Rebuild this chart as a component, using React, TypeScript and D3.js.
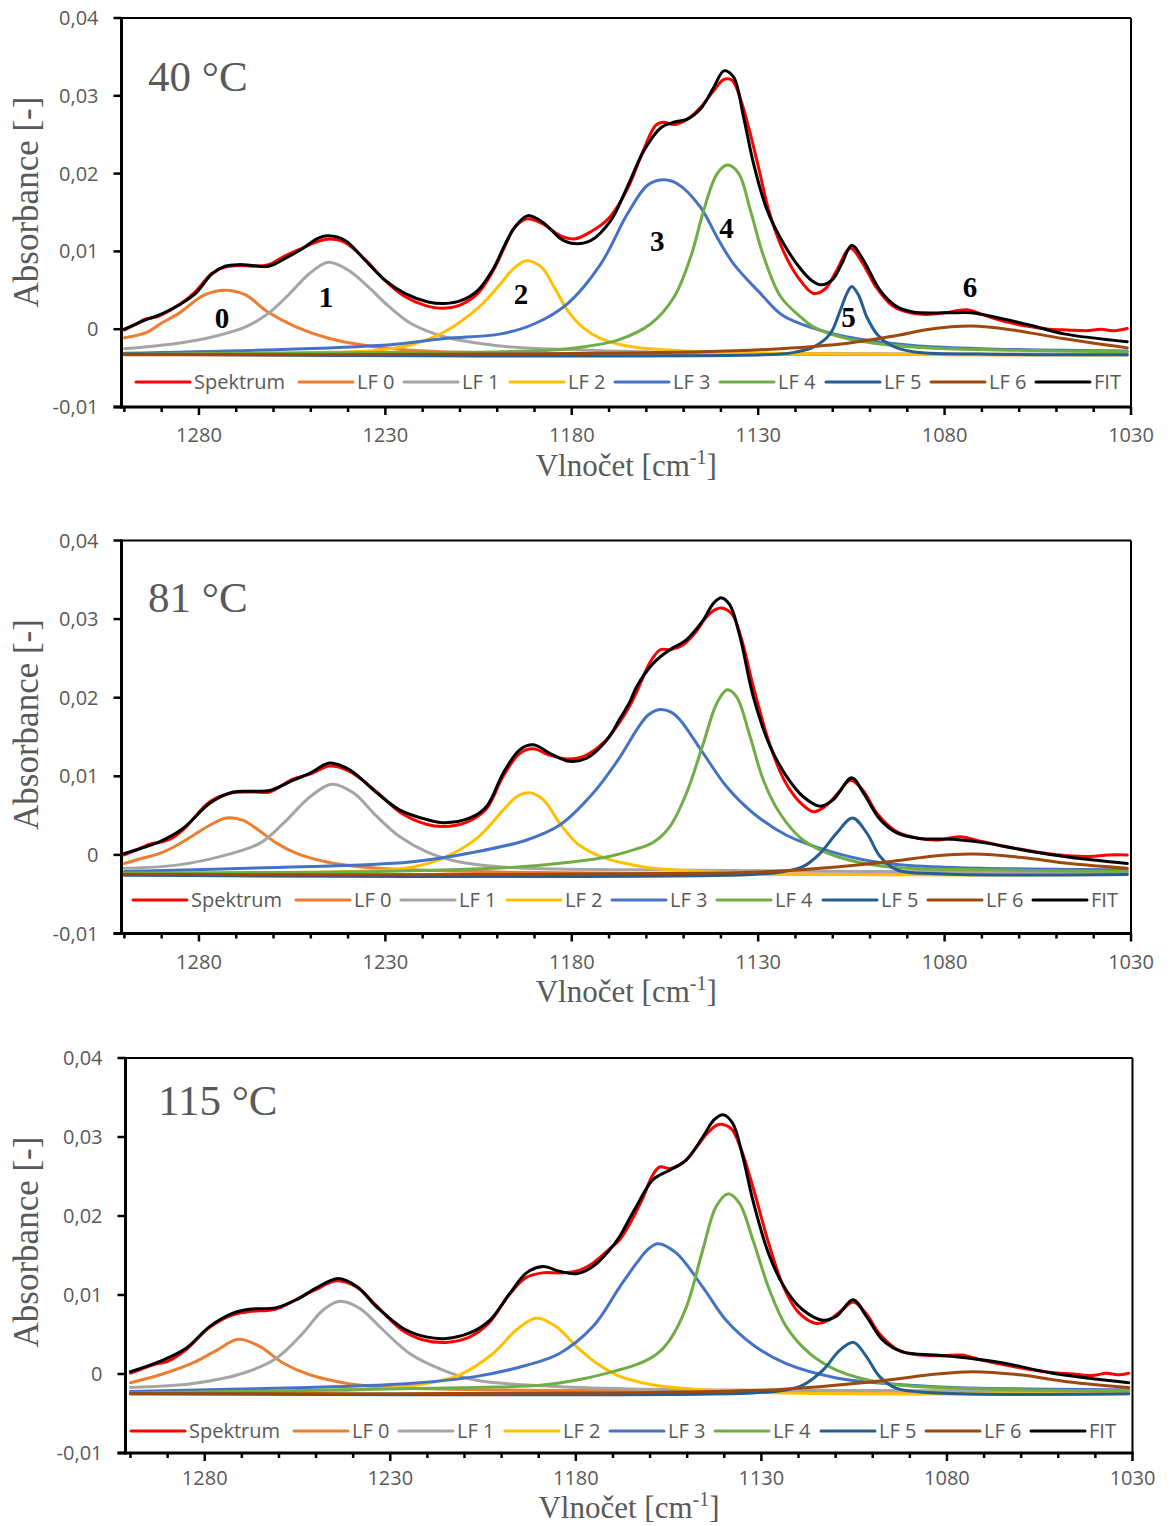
import React from 'react';
import * as d3 from 'd3';

type Pt = [number, number]; // [wavenumber cm-1, absorbance]

// ---------- 40 °C ----------
const spektrum40: Pt[] = [[1300,-0.0001],[1297,0.0006],[1294.5,0.0013],[1292,0.0015],[1289.8,0.0019],[1285.4,0.0031],[1281,0.0048],[1276.5,0.0072],[1273,0.008],[1269,0.0082],[1265.8,0.0081],[1261.3,0.0083],[1257,0.0094],[1252.4,0.0104],[1248,0.0113],[1245,0.0116],[1241,0.0112],[1235.5,0.009],[1230,0.0062],[1224.8,0.0042],[1219,0.003],[1215,0.0027],[1210,0.0031],[1205.2,0.0046],[1201,0.0076],[1198,0.0106],[1195.3,0.0131],[1192,0.0142],[1188,0.0136],[1183,0.012],[1179.3,0.0116],[1175,0.0125],[1170,0.0143],[1165.1,0.018],[1160.6,0.0232],[1157.5,0.0262],[1155.3,0.0266],[1152.6,0.0263],[1149,0.027],[1145.5,0.0285],[1142,0.0306],[1139.2,0.0321],[1137,0.032],[1134.5,0.0292],[1132.6,0.026],[1130,0.021],[1127,0.015],[1123.2,0.01],[1119.5,0.0068],[1115.2,0.0046],[1112,0.0052],[1109,0.0075],[1105.3,0.0104],[1102,0.0085],[1098.5,0.0055],[1094,0.003],[1090,0.0022],[1085,0.0019],[1080,0.0021],[1074.1,0.0025],[1070,0.0019],[1064,0.001],[1058,0.0004],[1052,0],[1047,-0.0001],[1042,-0.0002],[1038,0],[1035,-0.0002],[1031,0.0001]];
const lf0At40: Pt[] = [[1300,-0.0011],[1294,-0.0004],[1290,0.0008],[1285.5,0.002],[1278.5,0.0044],[1273,0.005],[1267.5,0.0044],[1261.5,0.0022],[1254,0.0003],[1245,-0.0012],[1236.5,-0.002],[1223,-0.0027],[1196,-0.0031],[1150,-0.0032],[1031,-0.0033]];
const lf1At40: Pt[] = [[1300,-0.0025],[1285.5,-0.0018],[1276.5,-0.001],[1267.5,0.0003],[1261.5,0.002],[1256,0.0044],[1250.5,0.0071],[1245.3,0.0086],[1240,0.0076],[1234.5,0.0054],[1229,0.0029],[1223,0.0007],[1214,-0.001],[1205,-0.0018],[1196,-0.0023],[1170,-0.0028],[1130,-0.0031],[1031,-0.0032]];
const lf2At40: Pt[] = [[1300,-0.0032],[1250,-0.003],[1232,-0.0027],[1223,-0.002],[1214,-0.0003],[1205,0.0028],[1199,0.0059],[1196,0.0076],[1192.2,0.0088],[1188.2,0.008],[1184.7,0.0054],[1181.1,0.0024],[1176.7,0.0001],[1172.2,-0.0012],[1163.3,-0.0023],[1145.5,-0.0029],[1105,-0.0032],[1031,-0.0033]];
const lf3At40: Pt[] = [[1300,-0.0031],[1232,-0.0021],[1214,-0.0012],[1199,-0.0006],[1190,0.0007],[1181.1,0.0033],[1172.2,0.0084],[1165.1,0.0148],[1159.7,0.0185],[1155.7,0.0192],[1151.7,0.0187],[1145.5,0.0157],[1141,0.0118],[1136.6,0.0084],[1129.4,0.0046],[1123.5,0.0018],[1115,0.0001],[1106,-0.001],[1088.5,-0.0021],[1070.6,-0.0025],[1031,-0.0028]];
const lf4At40: Pt[] = [[1300,-0.0032],[1230,-0.003],[1199,-0.0029],[1181,-0.0025],[1167.7,-0.0014],[1158.8,0.0007],[1152.6,0.0041],[1148.1,0.0093],[1144.6,0.0153],[1141,0.02],[1138.2,0.0211],[1135.2,0.02],[1132.1,0.0153],[1128.5,0.0093],[1124,0.0042],[1118.7,0.0016],[1115.2,0.0003],[1106.2,-0.0012],[1088.5,-0.0023],[1061.7,-0.0027],[1031,-0.0029]];
const lf5At40: Pt[] = [[1300,-0.0032],[1124,-0.0032],[1119.6,-0.0029],[1115.2,-0.0023],[1110.7,-0.0006],[1108,0.0024],[1106.2,0.0046],[1104.9,0.0055],[1103.1,0.0044],[1100.9,0.0016],[1098.2,-0.0006],[1094.7,-0.002],[1088.5,-0.0029],[1070.6,-0.0032],[1031,-0.0033]];
const lf6At40: Pt[] = [[1300,-0.0033],[1200,-0.0032],[1145.5,-0.0029],[1124,-0.0025],[1106,-0.0018],[1092.8,-0.0008],[1084,0],[1072.8,0.0004],[1061.7,-0.0001],[1048.3,-0.0012],[1031,-0.0024]];
const fit40: Pt[] = [[1300,0],[1294.3,0.0012],[1289.8,0.002],[1285.4,0.0031],[1280.9,0.0046],[1276.5,0.0071],[1273,0.0081],[1269.3,0.0083],[1265.8,0.0082],[1261.3,0.0081],[1256.9,0.0091],[1252.4,0.0103],[1248,0.0117],[1245.3,0.012],[1240.8,0.0114],[1235.5,0.0089],[1230.1,0.0063],[1224.8,0.0046],[1218.5,0.0035],[1214.1,0.0033],[1209.6,0.0037],[1205.2,0.005],[1201,0.0078],[1198,0.0108],[1195.3,0.0131],[1191.8,0.0146],[1187.4,0.0136],[1182.9,0.0116],[1179.3,0.011],[1174.9,0.0114],[1169.5,0.014],[1165.1,0.0183],[1160.6,0.023],[1156.1,0.0259],[1152.6,0.0266],[1149,0.027],[1145.5,0.0283],[1141.9,0.0311],[1139.2,0.0332],[1136.6,0.0324],[1133.9,0.0272],[1131.2,0.0212],[1127.6,0.0153],[1123.2,0.011],[1118.7,0.0078],[1115.5,0.0062],[1113,0.0057],[1110,0.0064],[1107.5,0.0085],[1104.9,0.0108],[1101.8,0.0089],[1097.3,0.005],[1092.8,0.0029],[1088.5,0.0022],[1079.5,0.0021],[1072.8,0.0021],[1066,0.0015],[1057,0.0005],[1048,-0.0006],[1031,-0.0016]];

// ---------- 81 °C ----------
const spektrum81: Pt[] = [[1300,0],[1296,0.0008],[1293,0.0014],[1290.5,0.0016],[1287,0.0022],[1284,0.0033],[1277,0.0068],[1271,0.0079],[1265.4,0.008],[1261,0.008],[1255,0.0096],[1250,0.0103],[1245,0.0113],[1239.5,0.0106],[1232.3,0.008],[1226,0.0054],[1219,0.0039],[1214.5,0.0036],[1208,0.0042],[1203,0.0058],[1198.4,0.01],[1194,0.0129],[1190.3,0.0135],[1186,0.0127],[1181,0.0122],[1176.5,0.0126],[1171,0.0145],[1167,0.017],[1164.4,0.019],[1162.6,0.0207],[1159,0.0245],[1156.3,0.0261],[1153.7,0.0261],[1150.5,0.0266],[1147,0.0282],[1144,0.0302],[1141.5,0.0312],[1139.8,0.0314],[1137,0.0306],[1134.5,0.0275],[1131.3,0.0214],[1127,0.0142],[1123,0.0095],[1119,0.0068],[1115.2,0.0055],[1112,0.0062],[1108,0.0082],[1105.3,0.0095],[1102,0.0083],[1098,0.0052],[1093,0.003],[1087,0.0021],[1082,0.0019],[1075.9,0.0023],[1070,0.0017],[1064,0.0011],[1058,0.0006],[1053,0.0002],[1047,-0.0001],[1041,-0.0002],[1036,0],[1031,0]];
const lf0At81: Pt[] = [[1300,-0.0011],[1295,-0.0004],[1290.5,0.0002],[1286,0.0012],[1281.5,0.0025],[1277,0.0038],[1272.6,0.0047],[1268.1,0.0044],[1263.6,0.003],[1259.2,0.0015],[1253.8,0.0002],[1245.7,-0.0009],[1236.8,-0.0015],[1223.4,-0.0019],[1196.6,-0.0022],[1150,-0.0024],[1031,-0.0025]];
const lf1At81: Pt[] = [[1300,-0.0017],[1286,-0.0013],[1272.6,0],[1263.6,0.0015],[1257.4,0.004],[1250.2,0.0074],[1244.4,0.009],[1238.6,0.0079],[1232.3,0.0049],[1226.1,0.0023],[1218.9,0.0004],[1210,-0.0009],[1196.6,-0.0016],[1164.4,-0.0019],[1100,-0.0021],[1031,-0.0022]];
const lf2At81: Pt[] = [[1300,-0.0024],[1250,-0.0022],[1232.3,-0.002],[1223.4,-0.0016],[1214.5,-0.0004],[1205.5,0.0021],[1198.4,0.0057],[1194.8,0.0074],[1191.4,0.0079],[1187.6,0.007],[1183.2,0.004],[1178.7,0.0015],[1174.2,0.0002],[1169.8,-0.0006],[1164.4,-0.0012],[1158.1,-0.0017],[1140.2,-0.0022],[1113.4,-0.0025],[1031,-0.0025]];
const lf3At81: Pt[] = [[1300,-0.0021],[1259.2,-0.0016],[1223.4,-0.0009],[1205.5,0.0004],[1192.1,0.0019],[1183.2,0.0038],[1174.2,0.0079],[1167,0.0125],[1162.6,0.0159],[1159.5,0.0178],[1156.3,0.0185],[1153.5,0.0182],[1151,0.0172],[1144.7,0.0129],[1138.5,0.0087],[1131.3,0.0053],[1122.4,0.0025],[1108.9,0.0002],[1095.5,-0.0011],[1077.7,-0.0016],[1031,-0.0019]];
const lf4At81: Pt[] = [[1300,-0.0023],[1232,-0.0021],[1196.6,-0.0016],[1180,-0.0009],[1170,-0.0002],[1163,0.0007],[1158.1,0.0016],[1153.7,0.0036],[1149.2,0.0079],[1144.7,0.0142],[1141.1,0.0193],[1138.3,0.021],[1135.8,0.0201],[1132.2,0.0151],[1128.6,0.0095],[1124.2,0.0053],[1118,0.0019],[1108.9,-0.0002],[1095.5,-0.0015],[1068.7,-0.0019],[1031,-0.0021]];
const lf5At81: Pt[] = [[1300,-0.0026],[1131.3,-0.0025],[1123,-0.0021],[1118,-0.0015],[1113.4,0.0002],[1108.9,0.0028],[1104.7,0.0047],[1100.9,0.0028],[1097.3,-0.0002],[1092.8,-0.0019],[1082.1,-0.0024],[1031,-0.0025]];
const lf6At81: Pt[] = [[1300,-0.0025],[1200,-0.0025],[1167,-0.0024],[1131.3,-0.0022],[1113.4,-0.0017],[1095.5,-0.0009],[1082.1,-0.0001],[1072.3,0.0001],[1059.8,-0.0003],[1046.4,-0.0011],[1031,-0.0017]];
const fit81: Pt[] = [[1300,0.0002],[1290.5,0.0017],[1284.2,0.0034],[1277,0.0066],[1270.8,0.008],[1265.4,0.0081],[1261,0.0082],[1254.7,0.0095],[1250.2,0.0104],[1244.9,0.0117],[1239.5,0.0108],[1232.3,0.0079],[1226.1,0.0057],[1218.9,0.0045],[1214.5,0.0041],[1207.3,0.0047],[1202.8,0.0062],[1198.4,0.0104],[1193.9,0.0134],[1190.3,0.014],[1185.8,0.0129],[1180.5,0.0119],[1176,0.0123],[1170.6,0.0146],[1167,0.0174],[1164.4,0.0195],[1162.6,0.0214],[1158.1,0.0244],[1153.7,0.0261],[1149.2,0.0274],[1144.7,0.0299],[1142,0.032],[1139.8,0.0327],[1137.6,0.0318],[1134.9,0.0278],[1131.3,0.0201],[1126.8,0.0138],[1122.4,0.01],[1117.9,0.0074],[1113.4,0.0062],[1109.9,0.007],[1104.9,0.0098],[1101.8,0.0079],[1097.3,0.0045],[1092.8,0.0028],[1086.7,0.0021],[1077.7,0.002],[1068.7,0.0015],[1059.8,0.0007],[1046.4,-0.0003],[1031,-0.0011]];

// ---------- 115 °C ----------
const spektrum115: Pt[] = [[1300,0.0001],[1296,0.0008],[1293,0.0013],[1290,0.0016],[1285,0.0031],[1279,0.0058],[1273,0.0074],[1268,0.0079],[1261,0.0082],[1255.5,0.0094],[1250,0.0107],[1244.5,0.0118],[1239,0.011],[1234,0.0088],[1227,0.0056],[1221,0.0043],[1215,0.004],[1209,0.0046],[1203.5,0.0064],[1198,0.01],[1193.5,0.0122],[1189,0.0128],[1184.5,0.0128],[1180,0.013],[1175.5,0.014],[1171,0.0158],[1168.2,0.017],[1165.5,0.019],[1162,0.0222],[1159.5,0.025],[1157.4,0.0262],[1154.5,0.026],[1151,0.0268],[1147.5,0.0287],[1144.5,0.0305],[1142,0.0315],[1140.5,0.0316],[1138,0.031],[1135.5,0.0285],[1132.3,0.0237],[1128,0.0165],[1124,0.011],[1120,0.0078],[1115.2,0.0064],[1112,0.0068],[1108,0.0082],[1105.3,0.0091],[1102,0.0078],[1098,0.005],[1093,0.003],[1087,0.0024],[1081,0.0023],[1076,0.0024],[1071,0.0018],[1065,0.0012],[1058,0.0006],[1052,0.0002],[1046,0],[1041,-0.0002],[1037,0.0001],[1034,-0.0001],[1031,0.0001]];
const lf0At115: Pt[] = [[1300,-0.0011],[1292,-0.0001],[1283.2,0.0014],[1276.8,0.003],[1271,0.0044],[1265.2,0.0035],[1258.9,0.0014],[1251.7,-0.0001],[1242.7,-0.0011],[1233.7,-0.0016],[1215.8,-0.0019],[1180,-0.0021],[1031,-0.0022]];
const lf1At115: Pt[] = [[1300,-0.0017],[1283.2,-0.0012],[1269.7,0.0001],[1260.7,0.002],[1253.5,0.0052],[1248.1,0.0081],[1243.6,0.0092],[1238.2,0.0083],[1232,0.0056],[1224.8,0.0026],[1215.8,0.0005],[1206.8,-0.0008],[1188.9,-0.0015],[1165.5,-0.0019],[1100,-0.0021],[1031,-0.0022]];
const lf2At115: Pt[] = [[1300,-0.0023],[1250,-0.0022],[1233.7,-0.0019],[1220.3,-0.0012],[1211.3,-0.0001],[1202.3,0.0026],[1196,0.0056],[1190.6,0.0071],[1185.3,0.006],[1179.9,0.0035],[1174.5,0.0014],[1169.1,-0.0001],[1165.5,-0.0007],[1159.2,-0.0014],[1145.8,-0.002],[1123.3,-0.0024],[1031,-0.0025]];
const lf3At115: Pt[] = [[1300,-0.0022],[1251.7,-0.0017],[1224.8,-0.0012],[1206.8,-0.0003],[1193.3,0.0011],[1184.4,0.0026],[1175.4,0.006],[1168.2,0.011],[1163.7,0.014],[1160.5,0.0158],[1157.9,0.0165],[1152.9,0.0153],[1145.8,0.011],[1139.5,0.0068],[1132.3,0.0037],[1123.3,0.0013],[1109.8,-0.0005],[1096.4,-0.0012],[1078.4,-0.0017],[1031,-0.002]];
const lf4At115: Pt[] = [[1300,-0.0024],[1242.7,-0.002],[1206.8,-0.0017],[1188.9,-0.0014],[1178,-0.0006],[1170,0.0003],[1163,0.0013],[1158,0.0026],[1154.7,0.0043],[1150.2,0.0085],[1145.8,0.0157],[1142.2,0.0212],[1139,0.0228],[1135.9,0.0216],[1132.3,0.017],[1127.8,0.0106],[1123.3,0.006],[1117,0.0026],[1109.8,0.0005],[1096.4,-0.0012],[1069.5,-0.0019],[1031,-0.0021]];
const lf5At115: Pt[] = [[1300,-0.0025],[1132.3,-0.0024],[1123,-0.002],[1118.8,-0.0014],[1113.4,0.0005],[1108.9,0.003],[1105.1,0.004],[1101.7,0.0022],[1098.2,-0.0003],[1093.7,-0.0018],[1082.9,-0.0024],[1031,-0.0025]];
const lf6At115: Pt[] = [[1300,-0.0025],[1168.2,-0.0024],[1132.3,-0.0021],[1114.3,-0.0016],[1096.4,-0.0008],[1082.9,0],[1073,0.0003],[1060.4,-0.0001],[1047,-0.001],[1031,-0.0017]];
const fit115: Pt[] = [[1300,0.0003],[1292.1,0.0016],[1284.9,0.0033],[1278.7,0.006],[1272.4,0.0077],[1267.9,0.0082],[1260.7,0.0084],[1255.3,0.0094],[1249.9,0.0109],[1244.1,0.0121],[1239.1,0.0111],[1233.7,0.0085],[1226.6,0.0058],[1220.3,0.0047],[1214.9,0.0045],[1208.6,0.0052],[1203.2,0.0068],[1197.8,0.0102],[1193.3,0.0128],[1188.9,0.0136],[1184.4,0.013],[1179.9,0.0127],[1175.4,0.0136],[1170.9,0.0157],[1168.2,0.0174],[1165.5,0.0197],[1163.7,0.0212],[1159.2,0.0246],[1154.7,0.0258],[1150.2,0.0271],[1145.8,0.03],[1142.7,0.0322],[1140.2,0.0328],[1137.7,0.0317],[1135,0.0275],[1132.3,0.022],[1127.8,0.0149],[1123.3,0.0106],[1118.8,0.0081],[1113.4,0.0068],[1109.8,0.0073],[1105.3,0.0094],[1101.7,0.0073],[1097.3,0.0043],[1091.9,0.0028],[1082.9,0.0024],[1073.9,0.002],[1064.9,0.0014],[1051.5,0.0001],[1031,-0.0011]];

// ---------- legend, axes, annotations ----------
const SERIES_NAMES = ['Spektrum', 'LF 0', 'LF 1', 'LF 2', 'LF 3', 'LF 4', 'LF 5', 'LF 6', 'FIT'];
const SERIES_COLORS = ['#FF0000', '#ED7D31', '#A5A5A5', '#FFC000', '#4472C4', '#70AD47', '#255E91', '#9E480E', '#000000'];
const TEMPERATURES = ['40 °C', '81 °C', '115 °C'];
const Y_TICKS = [-0.01, 0, 0.01, 0.02, 0.03, 0.04];
const Y_TICK_LABELS = ['-0,01', '0', '0,01', '0,02', '0,03', '0,04'];
const X_TICK_LABELS = ['1280', '1230', '1180', '1130', '1080', '1030'];
const PEAK_NAMES = ['0', '1', '2', '3', '4', '5', '6'];
const PEAK_ANCHORS: Pt[] = [[1273.8, 0.0001], [1245.9, 0.0028], [1193.6, 0.0033], [1157.1, 0.0101], [1138.5, 0.0117], [1105.8, 0.0003], [1073.2, 0.0041]];

const SERIES_BY_PANEL: Pt[][][] = [
  [spektrum40, lf0At40, lf1At40, lf2At40, lf3At40, lf4At40, lf5At40, lf6At40, fit40],
  [spektrum81, lf0At81, lf1At81, lf2At81, lf3At81, lf4At81, lf5At81, lf6At81, fit81],
  [spektrum115, lf0At115, lf1At115, lf2At115, lf3At115, lf4At115, lf5At115, lf6At115, fit115],
];

// frame geometry of each of the three stacked plots
const FRAMES = [
  { axisX: 121.5, x0: 124.4, x1: 1131, top: 18, bottom: 407, titleX: 148, titleY: 91, legendX: 136, legendY: 382, tickLabelY: 442, xTitleY: 476 },
  { axisX: 121.5, x0: 124.4, x1: 1131, top: 540.5, bottom: 933.5, titleX: 148, titleY: 612, legendX: 133, legendY: 900, tickLabelY: 968.5, xTitleY: 1002 },
  { axisX: 125.5, x0: 130.5, x1: 1132.5, top: 1058, bottom: 1453, titleX: 158, titleY: 1115, legendX: 131, legendY: 1431, tickLabelY: 1485, xTitleY: 1518 },
];
const LEGEND_OFFSETS = [0, 163, 268, 374, 479, 584, 690, 795, 900];

const SANS = "'Open Sans', 'DejaVu Sans', sans-serif";
const SERIF = "'Liberation Serif', 'Times New Roman', serif";
const GREY_TEXT = '#595959';

function Panel({ index }: { index: number }) {
  const f = FRAMES[index];
  const x = d3.scaleLinear().domain([1300, 1030]).range([f.x0, f.x1]);
  const y = d3.scaleLinear().domain([-0.01, 0.04]).range([f.bottom, f.top]);
  const line = d3
    .line<Pt>()
    .x((d) => x(d[0]))
    .y((d) => y(d[1]))
    .curve(d3.curveCatmullRom.alpha(0.5));

  const minorTicks = d3.range(1300, 1029, -10);
  const series = SERIES_BY_PANEL[index];

  return (
    <g>
      {/* plot frame: thin top/right border, heavy axes */}
      <line x1={f.axisX} x2={f.x1} y1={f.top} y2={f.top} stroke="#000" strokeWidth={2} />
      <line x1={f.x1} x2={f.x1} y1={f.top} y2={f.bottom} stroke="#000" strokeWidth={2} />

      {/* curves */}
      {series.map((pts, i) => (
        <path
          key={SERIES_NAMES[i]}
          d={line(pts) || ''}
          fill="none"
          stroke={SERIES_COLORS[i]}
          strokeWidth={3}
          strokeLinejoin="round"
          strokeLinecap="round"
        />
      ))}

      {/* axes */}
      <line x1={f.axisX} x2={f.axisX} y1={f.top - 1} y2={f.bottom + 1.5} stroke="#000" strokeWidth={3} />
      <line x1={f.axisX - 8} x2={f.x1 + 1} y1={f.bottom} y2={f.bottom} stroke="#000" strokeWidth={3} />
      {Y_TICKS.map((t, i) => (
        <g key={'yt' + t}>
          <line x1={f.axisX - 8} x2={f.axisX} y1={y(t)} y2={y(t)} stroke="#000" strokeWidth={2.5} />
          <text
            x={f.axisX - 23}
            y={y(t) + 7}
            textAnchor="end"
            fontFamily={SANS}
            fontSize={20}
            fill={GREY_TEXT}
          >
            {Y_TICK_LABELS[i]}
          </text>
        </g>
      ))}
      {minorTicks.map((t) => {
        const major = (1280 - t) % 50 === 0;
        return (
          <line
            key={'xt' + t}
            x1={x(t)}
            x2={x(t)}
            y1={f.bottom}
            y2={f.bottom + (major ? 8 : 5)}
            stroke="#000"
            strokeWidth={2.5}
          />
        );
      })}
      {X_TICK_LABELS.map((lab) => (
        <text
          key={'xl' + lab}
          x={x(+lab)}
          y={f.tickLabelY}
          textAnchor="middle"
          fontFamily={SANS}
          fontSize={20}
          fill={GREY_TEXT}
        >
          {lab}
        </text>
      ))}

      {/* axis titles */}
      <text
        x={(f.axisX + f.x1) / 2}
        y={f.xTitleY}
        textAnchor="middle"
        fontFamily={SERIF}
        fontSize={31}
        fill={GREY_TEXT}
      >
        Vlnočet [cm
        <tspan dy={-12} fontSize={20}>-1</tspan>
        <tspan dy={12}>]</tspan>
      </text>
      <text
        transform={`translate(38, ${f.top + 184}) rotate(-90)`}
        textAnchor="middle"
        fontFamily={SERIF}
        fontSize={35}
        fill={GREY_TEXT}
      >
        Absorbance [-]
      </text>

      {/* temperature */}
      <text x={f.titleX} y={f.titleY} fontFamily={SERIF} fontSize={43} fill={GREY_TEXT}>
        {TEMPERATURES[index]}
      </text>

      {/* peak numbering, shown on the first plot */}
      {index === 0 &&
        PEAK_NAMES.map((p, i) => (
          <text
            key={'pk' + p}
            x={x(PEAK_ANCHORS[i][0])}
            y={y(PEAK_ANCHORS[i][1])}
            textAnchor="middle"
            fontFamily={SERIF}
            fontWeight="bold"
            fontSize={29}
            fill="#000"
          >
            {p}
          </text>
        ))}

      {/* legend */}
      {SERIES_NAMES.map((name, i) => {
        const lx = f.legendX + LEGEND_OFFSETS[i];
        return (
          <g key={'lg' + name}>
            <line
              x1={lx}
              x2={lx + 54}
              y1={f.legendY}
              y2={f.legendY}
              stroke={SERIES_COLORS[i]}
              strokeWidth={3}
              strokeLinecap="round"
            />
            <text x={lx + 58} y={f.legendY + 7} fontFamily={SANS} fontSize={20} fill={GREY_TEXT}>
              {name}
            </text>
          </g>
        );
      })}
    </g>
  );
}

export default function App() {
  return (
    <svg
      width={1170}
      height={1526}
      viewBox="0 0 1170 1526"
      style={{ position: 'absolute', left: 0, top: 0, background: '#fff' }}
    >
      <rect x={0} y={0} width={1170} height={1526} fill="#fff" />
      {[0, 1, 2].map((i) => (
        <Panel key={i} index={i} />
      ))}
    </svg>
  );
}
